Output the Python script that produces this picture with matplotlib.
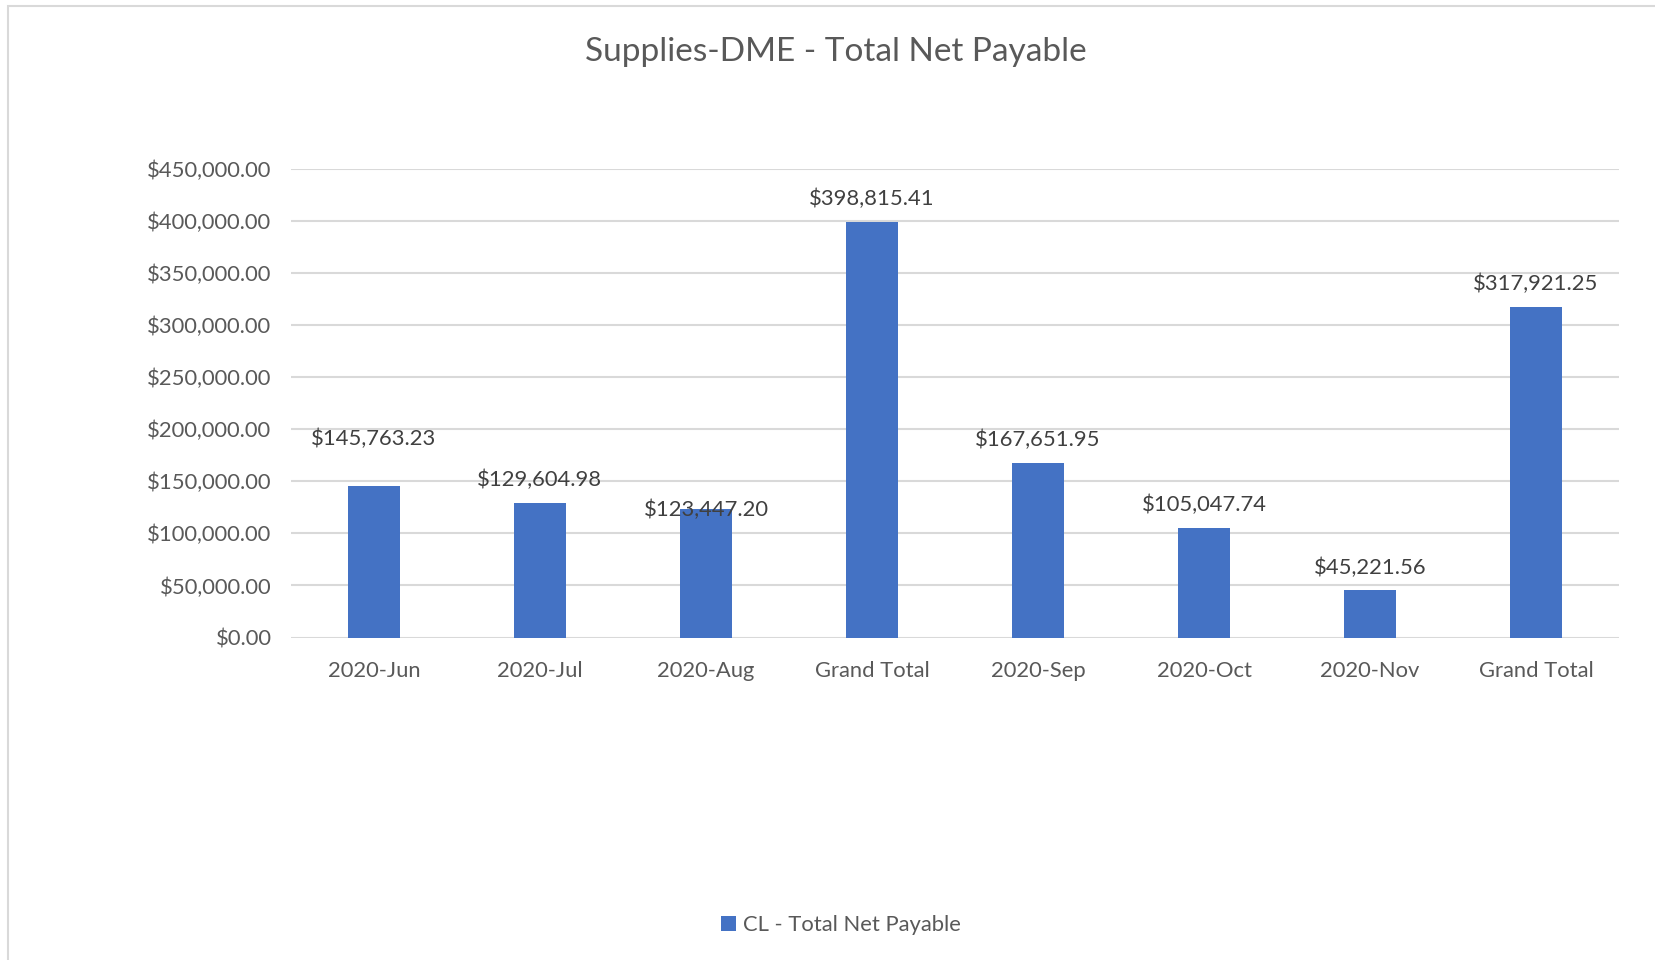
import matplotlib.pyplot as plt
from matplotlib.patches import Rectangle
from matplotlib.ticker import FuncFormatter, MultipleLocator

categories = ['2020-Jun', '2020-Jul', '2020-Aug', 'Grand Total',
              '2020-Sep', '2020-Oct', '2020-Nov', 'Grand Total']
net_payable = [145763.23, 129604.98, 123447.20, 398815.41,
               167651.95, 105047.74, 45221.56, 317921.25]
series_name = 'CL - Total Net Payable'
title = 'Supplies-DME - Total Net Payable'

W, H = 1655, 960
bar_color = '#4472C4'
text_color = '#595959'
grid_color = '#D9D9D9'

plt.rcParams['font.family'] = ['Lato', 'DejaVu Sans']

fig = plt.figure(figsize=(W / 100, H / 100), dpi=100)
fig.patch.set_facecolor('white')

# chart area border (light gray, cut off at right/bottom)
fig.patches.append(Rectangle((8 / W, -0.1), 1.2, 1 - 6 / H + 0.1,
                             transform=fig.transFigure, fill=False,
                             edgecolor='#D9D9D9', linewidth=1.5))

# plot area in pixels
left, right, top, bottom = 291, 1619, 169, 637.5
ax = fig.add_axes([left / W, 1 - bottom / H, (right - left) / W, (bottom - top) / H])

x = range(len(categories))
bars = ax.bar(x, net_payable, width=0.313, color=bar_color, zorder=3)

ax.set_xlim(-0.5, len(categories) - 0.5)
ax.set_ylim(0, 450000)
ax.yaxis.set_major_locator(MultipleLocator(50000))
ax.yaxis.set_major_formatter(FuncFormatter(lambda v, p: f'${v:,.2f}'))
ax.grid(axis='y', color=grid_color, linewidth=1.5, zorder=0)
ax.set_axisbelow(True)
for s in ax.spines.values():
    s.set_visible(False)
ax.tick_params(axis='both', length=0, labelsize=15.8, colors=text_color)
ax.tick_params(axis='y', pad=14)
ax.tick_params(axis='x', pad=17)
ax.set_xticks(list(x))
ax.set_xticklabels(categories)

# data labels (two were moved by hand in the original)
nudge = {0: 17, 2: -17}
for i, (b, v) in enumerate(zip(bars, net_payable)):
    ax.annotate(f'${v:,.2f}', (b.get_x() + b.get_width() / 2, v),
                xytext=(0, 16.5 + nudge.get(i, 0)), textcoords='offset points',
                ha='center', va='center', fontsize=15.8, color='#404040', zorder=4)

fig.text(836 / W, 1 - 52 / H, title, ha='center', va='center',
         fontsize=24, color=text_color)

leg = fig.legend([bars[0]], [series_name], loc='center',
                 bbox_to_anchor=(841 / W, 1 - 925 / H), frameon=False,
                 fontsize=15.8, handlelength=0.7, handleheight=0.7,
                 handletextpad=0.3, labelcolor=text_color)

fig.savefig('out.png', dpi=100)
